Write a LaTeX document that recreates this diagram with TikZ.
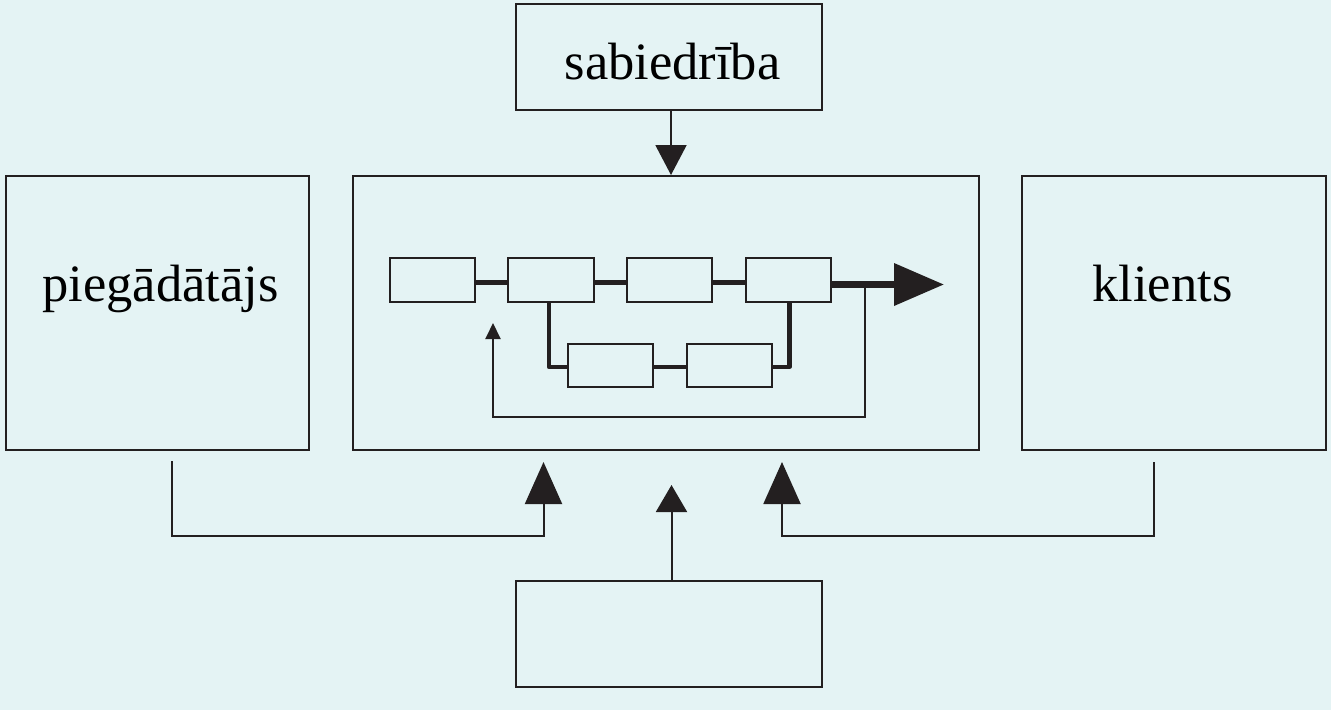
\documentclass[tikz,border=0pt]{standalone}
\usepackage{fontspec}
\setmainfont{Liberation Serif}
\usetikzlibrary{arrows.meta,calc}
\definecolor{bg}{RGB}{228,243,244}
\definecolor{ink}{RGB}{35,31,32}
\begin{document}
\begin{tikzpicture}[x=1pt,y=-1pt,
  bigbox/.style={draw=ink,line width=2pt,rectangle,inner sep=0pt},
  smallbox/.style={draw=ink,line width=1.2pt,rectangle,inner sep=0pt,minimum width=85pt,minimum height=44pt},
  lbl/.style={inner sep=0pt,anchor=base,text=black,font=\fontsize{52.5}{60}\selectfont},
  thin/.style={draw=ink,line width=2pt},
  thick/.style={draw=ink,line width=4.2pt},
  bigtip/.style={-{Triangle[length=42pt,width=37pt]}},
  midtip/.style={-{Triangle[length=27pt,width=31pt]}},
  toptip/.style={-{Triangle[length=30pt,width=31pt]}},
  maintip/.style={-{Triangle[length=50pt,width=41pt]}},
  fbtip/.style={-{Triangle[length=16pt,width=15pt]}}
]
\fill[bg] (0,0) rectangle (1331,710);
\useasboundingbox (0,0) rectangle (1331,710);

% big boxes
\node[bigbox,minimum width=306pt,minimum height=106pt] (soc) at (669,57) {};
\node[lbl] (soct) at (672.5,79) {sabiedrība};
\node[bigbox,minimum width=303pt,minimum height=274pt] (sup) at (157.5,313) {};
\node[lbl] (supt) at (160.5,301.7) {piegādātājs};
\node[bigbox,minimum width=626pt,minimum height=274pt] (main) at (666,313) {};
\node[bigbox,minimum width=304pt,minimum height=274pt] (cli) at (1174,313) {};
\node[lbl] (clit) at (1162.5,301.7) {klients};
\node[bigbox,minimum width=306pt,minimum height=106pt] (bot) at (669,633.5) {};

% inner chain
\node[smallbox] (b1) at (432.5,280) {};
\node[smallbox,minimum width=86pt] (b2) at (551,280) {};
\node[smallbox] (b3) at (669.5,280) {};
\node[smallbox] (b4) at (788.5,280) {};
\node[smallbox,minimum height=43pt] (b5) at (610.5,365.5) {};
\node[smallbox,minimum height=43pt] (b6) at (729.5,365.5) {};

\draw[thick] ($(b1.east)+(0,2.5)$) -- ($(b2.west)+(0,2.5)$);
\draw[thick] ($(b2.east)+(0,2.5)$) -- ($(b3.west)+(0,2.5)$);
\draw[thick] ($(b3.east)+(0,2.5)$) -- ($(b4.west)+(0,2.5)$);
\draw[thick] ($(b5.east)+(0,1.5)$) -- ($(b6.west)+(0,1.5)$);
\draw[thick,line join=round] ($(b2.south)+(-2,0)$) |- ($(b5.west)+(0,1.5)$);
\draw[thick,line join=round] ($(b4.south)+(1,0)$) |- ($(b6.east)+(0,1.5)$);

% main output arrow
\coordinate (mout) at (944,284.5);
\draw[draw=ink,line width=7pt,maintip] ($(b4.east)+(0,4.5)$) -- (mout);

% feedback
\coordinate (fbs) at (865,286);
\coordinate (fbe) at (493,323);
\draw[thin,fbtip,line join=miter] (fbs) -- (865,417) -| (fbe);

% top arrow
\coordinate (tx) at (671,0);
\draw[thin,toptip] (tx |- soc.south) -- (tx |- main.north);

% bottom arrows
\coordinate (ls) at (171.5,461);
\coordinate (le) at (543.5,462);
\draw[thin,bigtip] (ls) |- (le |- 0,536) -- (le);
\coordinate (rs) at (1154,462);
\coordinate (re) at (782,462);
\draw[thin,bigtip] (rs) |- (re |- 0,536) -- (re);
\coordinate (me) at (671.5,485);
\draw[thin,midtip] (me |- bot.north) -- (me);
\end{tikzpicture}
\end{document}
